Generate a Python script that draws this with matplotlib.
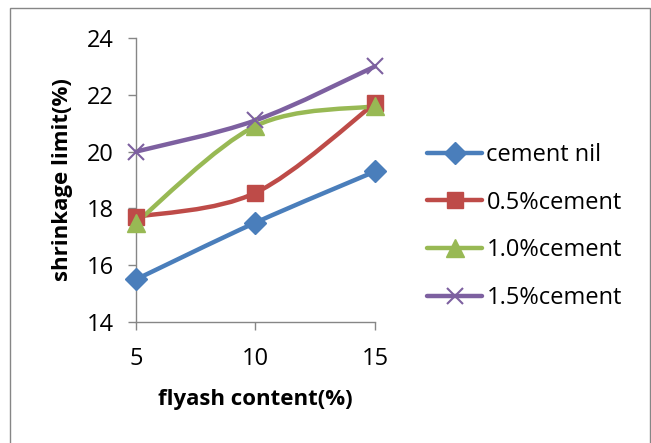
import matplotlib
matplotlib.use("Agg")
import matplotlib.pyplot as plt
from matplotlib.path import Path
from matplotlib.patches import PathPatch, Rectangle
from matplotlib.lines import Line2D

x_vals = [5, 10, 15]
series_names = ["cement nil", "0.5%cement", "1.0%cement", "1.5%cement"]
cement_nil = [15.5, 17.5, 19.3]
cement_05 = [17.7, 18.55, 21.7]
cement_10 = [17.5, 20.9, 21.6]
cement_15 = [20.0, 21.1, 23.0]
y_ticks = [14, 16, 18, 20, 22, 24]

colors = ["#4A7EBB", "#BE4B48", "#98B954", "#7D60A0"]
markers = ["D", "s", "^", "x"]
msizes = [11, 11, 13, 12]

plt.rcParams['font.family'] = ['Open Sans', 'DejaVu Sans']

fig = plt.figure(figsize=(6.51, 4.43), dpi=100)
ax = fig.add_axes([136/651, 1-322/443, (375-136)/651, (322-38)/443])

def smooth_path(xs, ys):
    # Excel-like smoothing: Catmull-Rom converted to cubic Bezier
    n = len(xs)
    verts = [(xs[0], ys[0])]
    codes = [Path.MOVETO]
    for i in range(n-1):
        p0 = (xs[i-1], ys[i-1]) if i > 0 else (xs[i], ys[i])
        p1 = (xs[i], ys[i])
        p2 = (xs[i+1], ys[i+1])
        p3 = (xs[i+2], ys[i+2]) if i+2 < n else (xs[i+1], ys[i+1])
        c1 = (p1[0] + (p2[0]-p0[0])/6, p1[1] + (p2[1]-p0[1])/6)
        c2 = (p2[0] - (p3[0]-p1[0])/6, p2[1] - (p3[1]-p1[1])/6)
        verts += [c1, c2, p2]
        codes += [Path.CURVE4]*3
    return Path(verts, codes)

all_series = [cement_nil, cement_05, cement_10, cement_15]
handles = []
for ys, c, m, ms, name in zip(all_series, colors, markers, msizes, series_names):
    patch = PathPatch(smooth_path(x_vals, ys), facecolor='none', edgecolor=c,
                      lw=3.2, capstyle='round', joinstyle='round', zorder=2,
                      clip_on=False)
    ax.add_patch(patch)
    if m == 'x':
        ax.plot(x_vals, ys, linestyle='none', marker=m, ms=ms, mec=c, mew=1.5,
                zorder=3, clip_on=False)
    else:
        ax.plot(x_vals, ys, linestyle='none', marker=m, ms=ms, mfc=c, mec=c,
                zorder=3, clip_on=False)
    handles.append(Line2D([], [], color=c, lw=3.2, marker=m, ms=ms,
                          mfc=c, mec=c, mew=1.5 if m == 'x' else 1,
                          solid_capstyle='round'))

ax.set_xlim(5, 15)
ax.set_ylim(14, 24)
ax.set_xticks(x_vals)
ax.set_yticks(y_ticks)
ax.tick_params(axis='both', labelsize=17, colors='#868686', labelcolor='black',
               length=6, width=1, direction='out')
ax.tick_params(axis='x', pad=12)
ax.tick_params(axis='y', pad=10)
for s in ['top', 'right']:
    ax.spines[s].set_visible(False)
for s in ['left', 'bottom']:
    ax.spines[s].set_color('#868686')
    ax.spines[s].set_linewidth(1)
ax.patch.set_alpha(0)

ax.set_xlabel("flyash content(%)", fontsize=16, fontweight='bold', labelpad=13)
ax.set_ylabel("shrinkage limit(%)", fontsize=16, fontweight='bold', labelpad=10)

leg = fig.legend(handles, series_names, loc='center left',
                 bbox_to_anchor=(427/651, 1-226.5/443), frameon=False,
                 fontsize=17, handlelength=2.35, handletextpad=0.17,
                 labelspacing=1.0, borderaxespad=0, borderpad=0)

fig.patches.append(Rectangle((10/651, -0.05), (649.5-10)/651, 1-8/443+0.05,
                             transform=fig.transFigure, fill=False,
                             edgecolor='#868686', lw=1))

fig.savefig("out.png", dpi=100)
